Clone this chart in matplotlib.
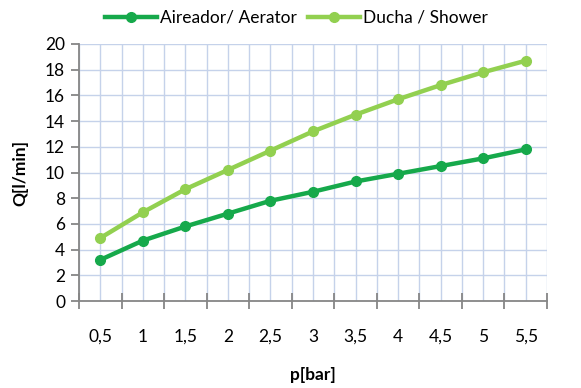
import matplotlib.pyplot as plt
import numpy as np

plt.rcParams['font.family'] = ['Lato', 'DejaVu Sans']

pressure = ['0,5', '1', '1,5', '2', '2,5', '3', '3,5', '4', '4,5', '5', '5,5']
aerator = [3.2, 4.7, 5.8, 6.8, 7.8, 8.5, 9.3, 9.9, 10.5, 11.1, 11.8]
shower = [4.9, 6.9, 8.7, 10.2, 11.7, 13.2, 14.5, 15.7, 16.8, 17.8, 18.7]

dark_green = '#16a94b'
light_green = '#92d050'
grid_col = '#c5d2ea'
axis_col = '#868686'

fig = plt.figure(figsize=(5.81, 3.88), dpi=100)
ax = fig.add_axes([79 / 581, 1 - 301 / 388, 468 / 581, 257 / 388])

x = np.arange(len(pressure))
ax.plot(x, aerator, color=dark_green, lw=3.2, marker='o', ms=7, label='Aireador/ Aerator', zorder=3)
ax.plot(x, shower, color=light_green, lw=3.2, marker='o', ms=7, label='Ducha / Shower', zorder=3)

ax.set_xlim(-0.5, len(pressure) - 0.5)
ax.set_ylim(0, 20)
ax.set_yticks(range(0, 21, 2))
ax.set_xticks(x)
ax.set_xticklabels(pressure)
ax.set_xticks(np.arange(-0.5, len(pressure), 1), minor=True)

# grid at category centres and boundaries
for v in np.arange(-0.5, len(pressure), 0.5):
    ax.axvline(v, color=grid_col, lw=1.0, zorder=1)
for h in range(2, 21, 2):
    ax.axhline(h, color=grid_col, lw=1.0, zorder=1)

for s in ['top', 'right']:
    ax.spines[s].set_visible(False)
ax.spines['left'].set_color(axis_col)
ax.spines['bottom'].set_color(axis_col)
ax.spines['left'].set_linewidth(1.3)
ax.spines['bottom'].set_linewidth(1.3)

ax.tick_params(axis='y', which='major', length=6, width=1.3, color=axis_col, labelsize=12.5, pad=4)
ax.tick_params(axis='x', which='major', length=0, labelsize=12.5, pad=20)
ax.tick_params(axis='x', which='minor', direction='inout', length=11, width=1.3, color=axis_col)

ax.set_xlabel('p[bar]', fontsize=12.5, fontweight='bold', labelpad=16)
ax.set_ylabel('Q[l/min]', fontsize=12.5, fontweight='bold', labelpad=12)

fig.legend(loc='upper center', bbox_to_anchor=(0.51, 1.015), ncol=2, frameon=False,
           fontsize=12.5, handlelength=3.0, columnspacing=0.6, handletextpad=0.2)

fig.savefig('out.png', dpi=100)
